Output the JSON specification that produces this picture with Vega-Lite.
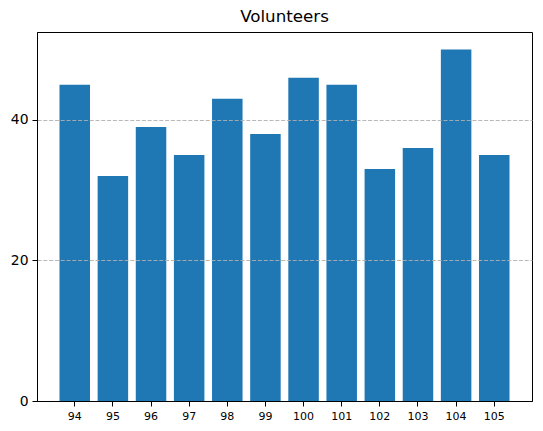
{
  "$schema": "https://vega.github.io/schema/vega-lite/v6.json",
  "width": 495,
  "height": 369,
  "autosize": {"type": "none"},
  "padding": {"left": 37, "top": 32, "right": 11, "bottom": 30},
  "background": "white",
  "title": {
    "text": "Volunteers",
    "font": "DejaVu Sans",
    "fontSize": 16.7,
    "fontWeight": "normal",
    "color": "black",
    "offset": 6
  },
  "data": {
    "values": [
      {"id": "94", "volunteers": 45},
      {"id": "95", "volunteers": 32},
      {"id": "96", "volunteers": 39},
      {"id": "97", "volunteers": 35},
      {"id": "98", "volunteers": 43},
      {"id": "99", "volunteers": 38},
      {"id": "100", "volunteers": 46},
      {"id": "101", "volunteers": 45},
      {"id": "102", "volunteers": 33},
      {"id": "103", "volunteers": 36},
      {"id": "104", "volunteers": 50},
      {"id": "105", "volunteers": 35}
    ]
  },
  "config": {
    "view": {"stroke": "black", "strokeWidth": 1},
    "axis": {
      "labelFont": "DejaVu Sans",
      "labelColor": "black",
      "domainColor": "black",
      "tickColor": "black",
      "tickSize": 5,
      "title": null
    }
  },
  "mark": {"type": "bar", "color": "#1f77b4"},
  "encoding": {
    "x": {
      "field": "id",
      "type": "ordinal",
      "sort": null,
      "scale": {"paddingInner": 0.2, "paddingOuter": 0.59},
      "axis": {"labelAngle": 0, "labelFontSize": 11, "labelPadding": 4, "grid": false, "zindex": 1}
    },
    "y": {
      "field": "volunteers",
      "type": "quantitative",
      "scale": {"domain": [0, 52.5], "nice": false},
      "axis": {
        "values": [0, 20, 40],
        "labelFontSize": 13.9,
        "labelPadding": 4,
        "grid": true,
        "gridColor": "#b0b0b0",
        "gridDash": [4, 1.8],
        "gridWidth": 0.9,
        "gridOpacity": {"condition": {"test": "datum.value === 0", "value": 0}, "value": 1},
        "zindex": 1
      }
    }
  }
}
